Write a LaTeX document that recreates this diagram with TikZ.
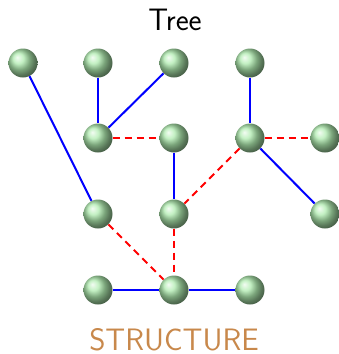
\documentclass[tikz,border=0pt]{standalone}
\definecolor{ballc}{RGB}{175,235,175}
\definecolor{structc}{RGB}{200,136,75}
\tikzset{
  ball/.style={circle, minimum size=29pt, inner sep=0pt, shading=ball, ball color=ballc},
  solidedge/.style={blue, line width=2pt},
  dashedge/.style={red, line width=2pt, dash pattern=on 7pt off 5pt},
  lbl/.style={font=\sffamily\fontsize{31}{34}\selectfont, inner sep=0pt}
}
\begin{document}
\begin{tikzpicture}[x=1pt,y=-1pt]
\useasboundingbox (0,0) rectangle (339,354);
\node[lbl, anchor=base] (title) at (175,30) {Tree};
\node[lbl, anchor=base, text=structc] (struct) at (174,350) {STRUCTURE};
% row 1
\node[ball] (a1) at (23,63) {};
\node[ball] (a2) at (98,63) {};
\node[ball] (a3) at (174,63) {};
\node[ball] (a4) at (250,63) {};
% row 2
\node[ball] (b1) at (98,138) {};
\node[ball] (b2) at (174,138) {};
\node[ball] (b3) at (250,138) {};
\node[ball] (b4) at (325,138) {};
% row 3
\node[ball] (c1) at (98,214) {};
\node[ball] (c2) at (174,214) {};
\node[ball] (c3) at (325,214) {};
% row 4
\node[ball] (d1) at (98,290) {};
\node[ball] (d2) at (174,290) {};
\node[ball] (d3) at (250,290) {};
% edges
\draw[solidedge] (a1) -- (c1);
\draw[solidedge] (a2) -- (b1);
\draw[solidedge] (a3) -- (b1);
\draw[solidedge] (a4) -- (b3);
\draw[solidedge] (b2) -- (c2);
\draw[solidedge] (b3) -- (c3);
\draw[solidedge] (d1) -- (d2);
\draw[solidedge] (d2) -- (d3);
\draw[dashedge] (b1) -- (b2);
\draw[dashedge] (b3) -- (b4);
\draw[dashedge] (b3) -- (c2);
\draw[dashedge] (c1) -- (d2);
\draw[dashedge] (c2) -- (d2);
\end{tikzpicture}
\end{document}
